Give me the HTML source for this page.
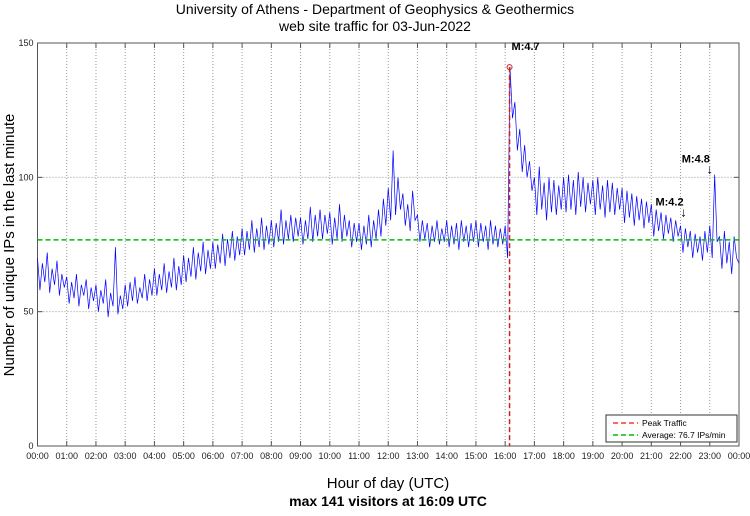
<!DOCTYPE html>
<html><head><meta charset="utf-8"><style>
body{margin:0;background:#fff;}
svg text{font-family:"Liberation Sans",sans-serif;}
</style></head><body>
<svg id="c" width="750" height="511" xmlns="http://www.w3.org/2000/svg">
<text x="375" y="14" font-size="14" text-anchor="middle">University of Athens - Department of Geophysics &amp; Geothermics</text>
<text x="375" y="31" font-size="14" text-anchor="middle">web site traffic for 03-Jun-2022</text>
<text transform="translate(14,245) rotate(-90)" font-size="15" text-anchor="middle">Number of unique IPs in the last minute</text>
<text x="388" y="488" font-size="15" text-anchor="middle">Hour of day (UTC)</text>
<text x="388" y="506" font-size="14" font-weight="bold" text-anchor="middle">max 141 visitors at 16:09 UTC</text>
<g id="grid"></g><g id="marks"></g>
</svg>
<script>
const hourLabels=["00:00","01:00","02:00","03:00","04:00","05:00","06:00","07:00","08:00","09:00","10:00","11:00","12:00","13:00","14:00","15:00","16:00","17:00","18:00","19:00","20:00","21:00","22:00","23:00","00:00"];
const yTicks=[0,50,100,150];
const traffic=[70,58,68,61,72,57,66,60,69,56,64,59,
63,53,61,55,64,52,60,56,62,51,59,54,
60,50,58,53,62,48,57,52,74,49,56,51,
60,52,61,54,63,53,59,55,64,54,62,56,
66,56,64,58,68,57,65,59,70,58,67,60,
71,61,70,63,74,62,72,65,76,64,73,66,
76,66,75,68,79,67,77,70,80,69,78,71,
81,71,80,73,84,72,81,74,85,73,82,75,
84,74,83,76,88,75,84,77,86,76,85,78,
85,75,84,77,89,76,86,78,88,77,86,79,
87,75,85,77,90,76,86,78,84,74,83,76,
83,73,82,75,86,74,84,77,88,78,92,82,
96,84,110,86,100,88,94,82,90,80,95,84,
86,76,84,77,83,74,82,76,84,75,81,76,
84,74,82,75,83,73,84,76,82,74,83,76,
84,74,83,76,82,73,84,75,82,74,81,75,
82,70,141,122,128,110,118,102,112,100,106,95,
100,86,104,88,98,84,100,87,99,86,97,88,
100,87,101,88,99,86,102,89,100,87,98,90,
99,86,100,88,97,85,99,87,98,86,96,88,
96,83,95,85,94,82,93,84,92,81,91,83,
90,78,88,80,87,77,86,79,85,76,84,78,
82,72,81,74,80,70,79,72,78,69,80,72,
82,70,101,76,78,66,80,68,76,64,78,70,
68];
const average=76.7;
const peakHour=16.15;
const quakes=[{label:"M:4.2",hour:22.1,value:84},{label:"M:4.8",hour:23.0,value:100}];
const L=37.5,R=739,T=43,B=446;
const xs=h=>L+h/24*(R-L);
const ys=v=>B-v/150*(B-T);
const NS="http://www.w3.org/2000/svg";
const grid=document.getElementById('grid'),marks=document.getElementById('marks');
function mk(tag,at,parent){const e=document.createElementNS(NS,tag);for(const k in at)e.setAttribute(k,at[k]);(parent||marks).appendChild(e);return e;}
const frame=mk('rect',{x:L,y:T,width:R-L,height:B-T,fill:'none',stroke:'#555','stroke-width':1},grid);


hourLabels.forEach((t,i)=>{const x=xs(i);
 if(i>0&&i<24){const g=mk('line',{x1:x,x2:x,y1:T,y2:B,stroke:'#999','stroke-dasharray':'1,2'},grid);
 
 }
 mk('line',{x1:x,x2:x,y1:B,y2:B-5,stroke:'#555'},grid);mk('line',{x1:x,x2:x,y1:T,y2:T+5,stroke:'#555'},grid);
 const tx=mk('text',{x:x,y:B+13,'font-size':9,'text-anchor':'middle',fill:'#222'},grid);tx.textContent=t;
 
 });
yTicks.forEach(v=>{const y=ys(v);
 if(v>0&&v<150){const g=mk('line',{x1:L,x2:R,y1:y,y2:y,stroke:'#999','stroke-dasharray':'1,2'},grid);
 
 }
 mk('line',{x1:L,x2:L+5,y1:y,y2:y,stroke:'#555'},grid);mk('line',{x1:R,x2:R-5,y1:y,y2:y,stroke:'#555'},grid);
 const tx=mk('text',{x:L-4,y:y+3,'font-size':9,'text-anchor':'end',fill:'#222'},grid);tx.textContent=v;
 
 });
const step=24/(traffic.length-1);
const pl=mk('polyline',{points:traffic.map((v,i)=>xs(i*step)+','+ys(v)).join(' '),fill:'none',stroke:'#0000ff','stroke-width':0.7});


const av=mk('line',{x1:L,x2:R,y1:ys(average),y2:ys(average),stroke:'#00bb00','stroke-width':1.5,'stroke-dasharray':'5,3'});


const pk=mk('line',{x1:xs(peakHour),x2:xs(peakHour),y1:ys(141),y2:B,stroke:'#cc2222','stroke-width':1.5,'stroke-dasharray':'5,3'});


const pc=mk('circle',{cx:xs(peakHour),cy:ys(141),r:2.5,fill:'none',stroke:'#cc2222'});


const pt=mk('text',{x:xs(peakHour)+2,y:ys(141)-17,'font-size':11,'font-weight':'bold'});pt.textContent='M:4.7';


quakes.forEach(q=>{const x=xs(q.hour),y=ys(q.value);
 const a=mk('text',{x:x,y:y-4,'font-size':13,'text-anchor':'middle'});a.textContent='↓';
 
 
 const t=mk('text',{x:x-28,y:y-15,'font-size':11,'font-weight':'bold'});t.textContent=q.label;
 
 });
const lg=mk('g',{});


mk('rect',{x:606,y:415,width:131,height:27,fill:'#fff',stroke:'#333'},lg);
mk('line',{x1:613,x2:638,y1:423,y2:423,stroke:'#ff3333','stroke-width':1.5,'stroke-dasharray':'5,3'},lg);
mk('line',{x1:613,x2:638,y1:435,y2:435,stroke:'#00bb00','stroke-width':1.5,'stroke-dasharray':'5,3'},lg);
const l1=mk('text',{x:642,y:426,'font-size':8.5},lg);l1.textContent='Peak Traffic';


const l2=mk('text',{x:642,y:438,'font-size':8.5},lg);l2.textContent='Average: 76.7 IPs/min';


</script>
</body></html>
